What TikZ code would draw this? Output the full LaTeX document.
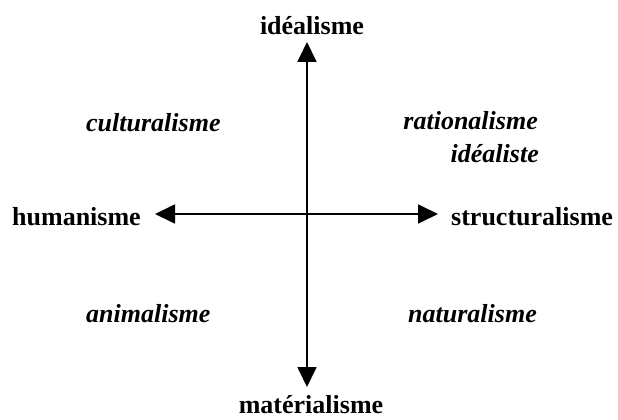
\documentclass[tikz,border=0pt]{standalone}
\usepackage{fontspec}
\setmainfont{Liberation Serif}
\usetikzlibrary{arrows.meta}
\tikzset{
  axislabel/.style={font=\fontsize{26}{30}\selectfont\bfseries, inner sep=0pt},
  quadlabel/.style={font=\fontsize{26}{30}\selectfont\bfseries\itshape, inner sep=0pt},
  axisline/.style={line width=1.8pt, {Triangle[length=20pt,width=19pt]}-{Triangle[length=20pt,width=19pt]}}
}
\begin{document}
\begin{tikzpicture}[x=1pt,y=-1pt]
\useasboundingbox (0,0) rectangle (618,420);
% axis tips
\coordinate (top) at (307,42);
\coordinate (bottom) at (307,387);
\coordinate (left) at (155,214);
\coordinate (right) at (438,214);
\draw[axisline] (top) -- (bottom);
\draw[axisline] (left) -- (right);
% axis labels
\node[axislabel, anchor=base] (ideal) at (312,35) {idéalisme};
\node[axislabel, anchor=base] (mater) at (311,413) {matérialisme};
\node[axislabel, anchor=base west] (human) at (12,225) {humanisme};
\node[axislabel, anchor=base west] (struct) at (451,225) {structuralisme};
% quadrant labels
\node[quadlabel, anchor=base west] (cult) at (86,131) {culturalisme};
\node[quadlabel, anchor=base east] (ratio) at (538,129) {rationalisme};
\node[quadlabel, anchor=base east] (idealiste) at (539,162) {idéaliste};
\node[quadlabel, anchor=base west] (anim) at (86,322) {animalisme};
\node[quadlabel, anchor=base west] (nat) at (408,322) {naturalisme};
\end{tikzpicture}
\end{document}
